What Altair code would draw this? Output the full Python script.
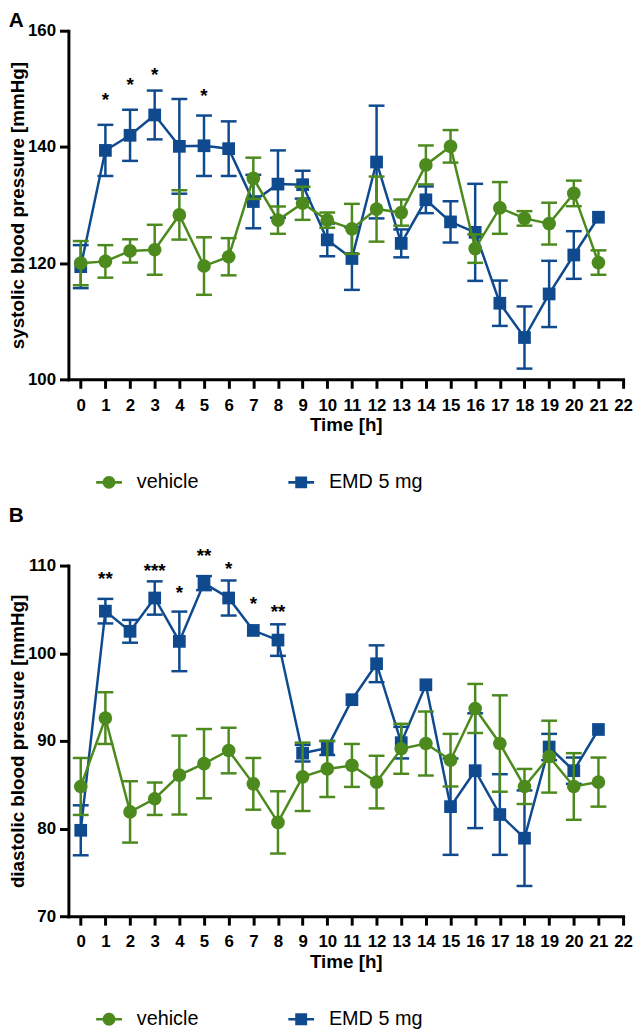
import altair as alt
import pandas as pd

FONT = "Liberation Sans"

hours = list(range(22))
groups = ["vehicle", "EMD 5 mg"]
colors = ["#4C8A1E", "#0F4A8F"]

# Panel A: systolic blood pressure (mean, SEM)
sys_vehicle = [120.0, 120.3, 122.1, 122.3, 128.3, 119.5, 121.1, 134.6, 127.4, 130.3, 127.4,
               125.9, 129.3, 128.7, 136.9, 140.1, 122.5, 129.5, 127.7, 126.8, 132.0, 120.1]
sys_vehicle_sem = [3.8, 2.8, 2.0, 4.3, 4.25, 4.95, 3.2, 3.55, 2.35, 2.85, 1.3,
                   4.3, 5.6, 2.25, 3.35, 2.8, 2.45, 4.45, 1.25, 3.6, 2.2, 2.1]
sys_emd = [119.4, 139.4, 142.0, 145.5, 140.1, 140.2, 139.7, 130.6, 133.6, 133.5, 124.0,
           120.8, 137.4, 123.4, 130.9, 127.1, 125.3, 113.1, 107.2, 114.7, 121.4, 127.9]
sys_emd_sem = [3.7, 4.4, 4.4, 4.2, 8.15, 5.2, 4.7, 4.6, 5.8, 2.4, 2.8,
               5.4, 9.7, 2.4, 2.3, 3.55, 8.35, 3.9, 5.35, 5.7, 4.1, 0.0]
sys_star_hours = [1, 2, 3, 5]
sys_star_y = [148.7, 151.4, 153.0, 149.5]
sys_star_text = ["*", "*", "*", "*"]

# Panel B: diastolic blood pressure (mean, SEM)
dia_vehicle = [84.8, 92.6, 81.9, 83.4, 86.1, 87.4, 88.9, 85.1, 80.7, 85.9, 86.8,
               87.2, 85.3, 89.1, 89.7, 87.8, 93.7, 89.7, 84.8, 88.2, 84.8, 85.3]
dia_vehicle_sem = [3.25, 2.95, 3.5, 1.85, 4.5, 3.95, 2.6, 2.95, 3.55, 3.9, 3.2,
                   2.45, 3.0, 2.85, 3.65, 3.0, 2.8, 5.5, 2.0, 4.1, 3.8, 2.8]
dia_emd = [79.8, 104.8, 102.5, 106.3, 101.35, 108.0, 106.3, 102.6, 101.5, 88.6, 89.2,
           94.7, 98.8, 89.8, 96.4, 82.5, 86.6, 81.6, 78.9, 89.3, 86.6, 91.3]
dia_emd_sem = [2.85, 1.4, 1.3, 1.9, 3.4, 0.8, 2.0, 0.0, 1.8, 0.95, 0.8,
               0.0, 2.1, 1.8, 0.0, 5.5, 6.55, 4.6, 5.45, 1.5, 1.5, 0.0]
dia_star_hours = [1, 3, 4, 5, 6, 7, 8]
dia_star_y = [108.9, 109.85, 107.3, 111.5, 110.0, 106.1, 105.2]
dia_star_text = ["**", "***", "*", "**", "*", "*", "**"]

leg_circle = "M-1.3,-0.13H1.3V0.13H-1.3Z M0.65,0A0.65,0.65,0,1,1,-0.65,0A0.65,0.65,0,1,1,0.65,0Z"
leg_square = "M-1.3,-0.13H1.3V0.13H-1.3Z M-0.6,-0.6H0.6V0.6H-0.6Z"


def panel(vehicle, vehicle_sem, emd, emd_sem, sh, sy, st, ydom, yticks, ytitle,
          letter, title_offset, legend_y, height):
    rows = []
    for g, m, s in [("vehicle", vehicle, vehicle_sem), ("EMD 5 mg", emd, emd_sem)]:
        for h, mv, sv in zip(hours, m, s):
            rows.append(dict(group=g, hour=h, mean=mv, lo=mv - sv, hi=mv + sv, sem=sv))
    df = pd.DataFrame(rows)
    stars = pd.DataFrame(dict(hour=sh, ypos=sy, txt=st))

    xax = alt.Axis(values=list(range(23)), title="Time [h]", format="d", labelOverlap=False,
                   labelFlush=False, labelPadding=9, titlePadding=3)
    yax = alt.Axis(values=yticks, title=ytitle, labelPadding=4, titlePadding=0)
    xsc = alt.Scale(domain=[-0.5, 22], nice=False, zero=False)
    ysc = alt.Scale(domain=ydom, nice=False, zero=False)

    def X():
        return alt.X("hour:Q", scale=xsc, axis=xax)

    def Y(f):
        return alt.Y(f"{f}:Q", scale=ysc, axis=yax)

    layers = []
    for g, col, shp, size in [("EMD 5 mg", colors[1], "square", 165),
                              ("vehicle", colors[0], "circle", 190)]:
        base = alt.Chart(df).transform_filter(alt.datum.group == g)
        err = base.transform_filter(alt.datum.sem > 0)
        layers.append(err.mark_rule(color=col, strokeWidth=2.5).encode(
            x=X(), y=Y("lo"), y2="hi:Q"))
        layers.append(err.mark_tick(color=col, orient="horizontal", size=16,
                                    thickness=2.5, opacity=1).encode(x=X(), y=Y("lo")))
        layers.append(err.mark_tick(color=col, orient="horizontal", size=16,
                                    thickness=2.5, opacity=1).encode(x=X(), y=Y("hi")))
        layers.append(base.mark_line(color=col, strokeWidth=2.5).encode(
            x=X(), y=Y("mean")))
        layers.append(base.mark_point(color=col, filled=True, opacity=1, shape=shp,
                                      size=size).encode(x=X(), y=Y("mean")))

    layers.append(alt.Chart(stars).mark_text(font=FONT, fontSize=19, fontWeight="bold",
                                             color="black", baseline="middle", dy=4).encode(
        x=X(), y=Y("ypos"), text="txt:N"))

    leg = alt.Legend(orient="none", legendX=31, legendY=legend_y, direction="horizontal",
                     title=None, symbolSize=400, labelOffset=18, columnPadding=90,
                     labelFont=FONT, labelFontSize=20, labelFontWeight="normal",
                     labelColor="black", symbolStrokeWidth=0, symbolOpacity=1)
    layers.append(alt.Chart(df).transform_filter("false").mark_point(filled=True, opacity=1).encode(
        x=X(), y=Y("mean"),
        color=alt.Color("group:N", scale=alt.Scale(domain=groups, range=colors), legend=leg),
        shape=alt.Shape("group:N", scale=alt.Scale(domain=groups, range=[leg_circle, leg_square]),
                        legend=leg)))

    return alt.layer(*layers).properties(
        width=560, height=height,
        title=alt.TitleParams(letter, anchor="start", frame="bounds", fontSize=21,
                              fontWeight="bold", font=FONT, color="black",
                              offset=title_offset))


chart_a = panel(sys_vehicle, sys_vehicle_sem, sys_emd, sys_emd_sem,
                sys_star_hours, sys_star_y, sys_star_text, [100, 160], [100, 120, 140, 160],
                "systolic blood pressure [mmHg]", "A", -9, 446, 352)
chart_b = panel(dia_vehicle, dia_vehicle_sem, dia_emd, dia_emd_sem,
                dia_star_hours, dia_star_y, dia_star_text, [70, 110], [70, 80, 90, 100, 110],
                "diastolic blood pressure [mmHg]", "B", 22, 448, 354)

chart = alt.vconcat(chart_a, chart_b, spacing=12).resolve_scale(
    color="independent", shape="independent"
).resolve_legend(color="independent", shape="independent").properties(
    padding={"left": 0, "top": -3, "right": 0, "bottom": 0}
).configure_view(
    stroke=None
).configure_axis(
    grid=False, domainColor="black", domainWidth=3, tickColor="black", tickWidth=3,
    tickSize=9, labelFont=FONT, labelFontSize=17, labelFontWeight="bold", labelColor="black",
    titleFont=FONT, titleFontSize=19, titleFontWeight="bold",
    titleColor="black", domainCap="square"
)

chart.save("out.html", embed_options={"renderer": "svg", "actions": False})
